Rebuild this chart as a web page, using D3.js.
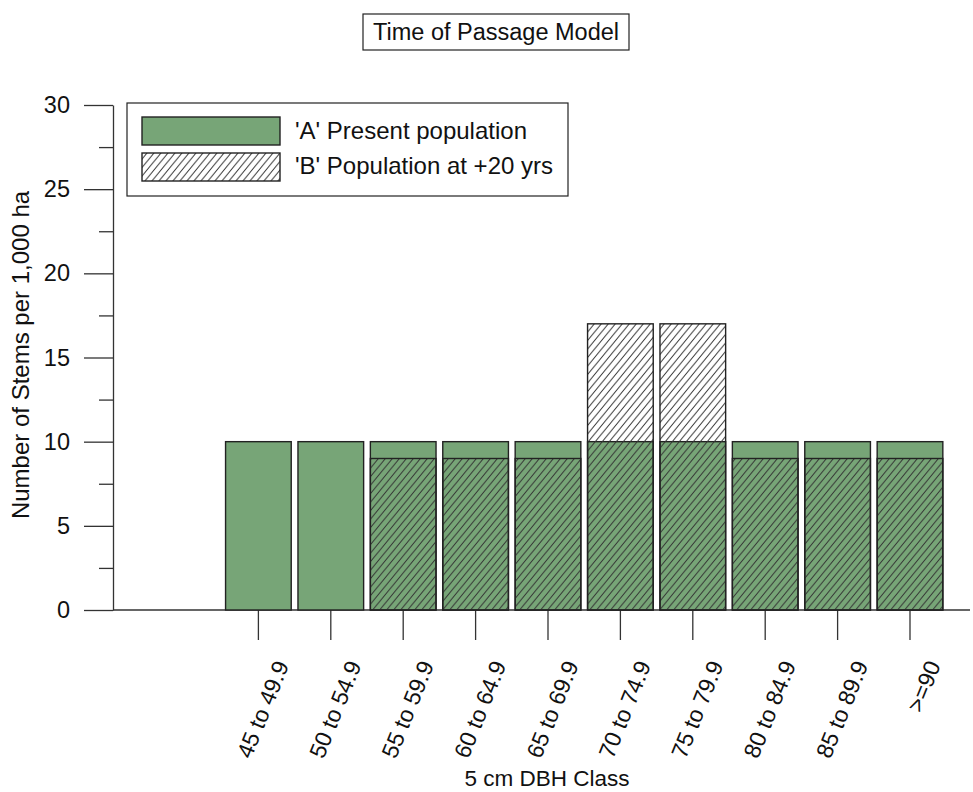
<!DOCTYPE html>
<html>
<head>
<meta charset="utf-8">
<script src="https://cdn.jsdelivr.net/npm/d3@7"></script>
<style>
  body { margin: 0; background: #fff; }
  text { font-family: "Liberation Sans", Arial, Helvetica, sans-serif; fill: #111; }
</style>
</head>
<body>
<script>
// diameter classes and stems per 1,000 ha
var classes = ['45 to 49.9', '50 to 54.9', '55 to 59.9', '60 to 64.9', '65 to 69.9',
               '70 to 74.9', '75 to 79.9', '80 to 84.9', '85 to 89.9', '>=90'];
var present = [10, 10, 10, 10, 10, 10, 10, 10, 10, 10];   // 'A'
var future  = [0, 0, 9, 9, 9, 17, 17, 9, 9, 9];            // 'B'
var yTicks = [0, 5, 10, 15, 20, 25, 30];
var yMinor = [2.5, 7.5, 12.5, 17.5, 22.5, 27.5];
var legendLabels = ["'A' Present population", "'B' Population at +20 yrs"];

var width = 973, height = 792;
var green = '#77a577', ink = '#222';

var svg = d3.select('body')
  .append('svg')
  .attr('width', width)
  .attr('height', height);

// hatch pattern for the +20 yrs bars
var pat = svg.append('defs')
  .append('pattern')
  .attr('id', 'hatch')
  .attr('patternUnits', 'userSpaceOnUse')
  .attr('width', 7)
  .attr('height', 8.5);
pat.append('path')
  .attr('d', 'M0,8.5L7,0M-1,1.2L1,-1.2M6,9.7L8,7.3')
  .attr('stroke', '#333')
  .attr('stroke-width', 1);

var y = d3.scaleLinear()
  .domain([0, 30])
  .range([610, 105]);

var x = d3.scaleBand()
  .domain(classes)
  .range([222.2, 946.2])
  .paddingInner(0.093)
  .paddingOuter(0.0465);

//title box
var title = svg.append('g');
title.append('rect')
  .attr('x', 363).attr('y', 14)
  .attr('width', 266).attr('height', 36)
  .attr('fill', 'none').attr('stroke', ink).attr('stroke-width', 1.2);
title.append('text')
  .attr('x', 496).attr('y', 40)
  .attr('text-anchor', 'middle')
  .style('font-size', '23.5px')
  .text('Time of Passage Model');

// y axis, major and minor ticks
var yAxis = svg.append('g')
  .attr('transform', 'translate(113,0)')
  .call(d3.axisLeft(y).tickValues(yTicks).tickSize(29).tickPadding(14).tickSizeOuter(0));
yAxis.selectAll('text')
  .style('font-size', '23.5px')
  .attr('fill', '#111');
svg.append('g')
  .attr('transform', 'translate(113,0)')
  .call(d3.axisLeft(y).tickValues(yMinor).tickSize(14).tickSizeOuter(0).tickFormat(''))
  .select('.domain').remove();
svg.selectAll('.domain, .tick line')
  .attr('stroke', '#333')
  .attr('stroke-width', 1.3);

svg.append('text')
  .attr('transform', 'translate(29,355) rotate(-90)')
  .attr('text-anchor', 'middle')
  .style('font-size', '24px')
  .text('Number of Stems per 1,000 ha');

// baseline of the bars
svg.append('line')
  .attr('x1', 113).attr('x2', 970)
  .attr('y1', y(0)).attr('y2', y(0))
  .attr('stroke', '#333').attr('stroke-width', 1.3);

// x ticks below the baseline
svg.selectAll('.xtick')
  .data(classes)
  .enter()
  .append('line')
  .attr('x1', function(d) { return x(d) + x.bandwidth() / 2; })
  .attr('x2', function(d) { return x(d) + x.bandwidth() / 2; })
  .attr('y1', y(0)).attr('y2', y(0) + 30)
  .attr('stroke', '#333').attr('stroke-width', 1.3);

svg.selectAll('.xlab')
  .data(classes)
  .enter()
  .append('text')
  .attr('text-anchor', 'end')
  .style('font-size', '23px')
  .attr('transform', function(d) {
    var cx = x(d) + x.bandwidth() / 2;
    return 'translate(' + (cx + 31) + ',665) rotate(-68)';
  })
  .text(function(d) { return d; });

svg.append('text')
  .attr('x', 547).attr('y', 786)
  .attr('text-anchor', 'middle')
  .style('font-size', '22.5px')
  .text('5 cm DBH Class');

// 'A' bars
svg.selectAll('.barA')
  .data(classes)
  .enter()
  .append('rect')
  .attr('x', function(d) { return x(d); })
  .attr('y', function(d, i) { return y(present[i]); })
  .attr('width', x.bandwidth())
  .attr('height', function(d, i) { return y(0) - y(present[i]); })
  .attr('fill', green)
  .attr('stroke', ink)
  .attr('stroke-width', 1.4);

// 'B' bars drawn over them
svg.selectAll('.barB')
  .data(classes.filter(function(d, i) { return future[i] > 0; }))
  .enter()
  .append('rect')
  .attr('x', function(d) { return x(d); })
  .attr('y', function(d) { return y(future[classes.indexOf(d)]); })
  .attr('width', x.bandwidth())
  .attr('height', function(d) { return y(0) - y(future[classes.indexOf(d)]); })
  .attr('fill', 'url(#hatch)')
  .attr('stroke', ink)
  .attr('stroke-width', 1.4);

// legend
var legend = svg.append('g');
legend.append('rect')
  .attr('x', 127).attr('y', 103)
  .attr('width', 441).attr('height', 93)
  .attr('fill', '#fff').attr('stroke', ink).attr('stroke-width', 1.2);
legend.selectAll('.sw')
  .data(legendLabels)
  .enter()
  .append('rect')
  .attr('x', 142)
  .attr('y', function(d, i) { return 117 + i * 36; })
  .attr('width', 138).attr('height', 28)
  .attr('fill', function(d, i) { return i === 0 ? green : 'url(#hatch)'; })
  .attr('stroke', ink).attr('stroke-width', 1.4);
legend.selectAll('.lt')
  .data(legendLabels)
  .enter()
  .append('text')
  .attr('x', 295)
  .attr('y', function(d, i) { return 139 + i * 35; })
  .style('font-size', '24px')
  .text(function(d) { return d; });
</script>
</body>
</html>
